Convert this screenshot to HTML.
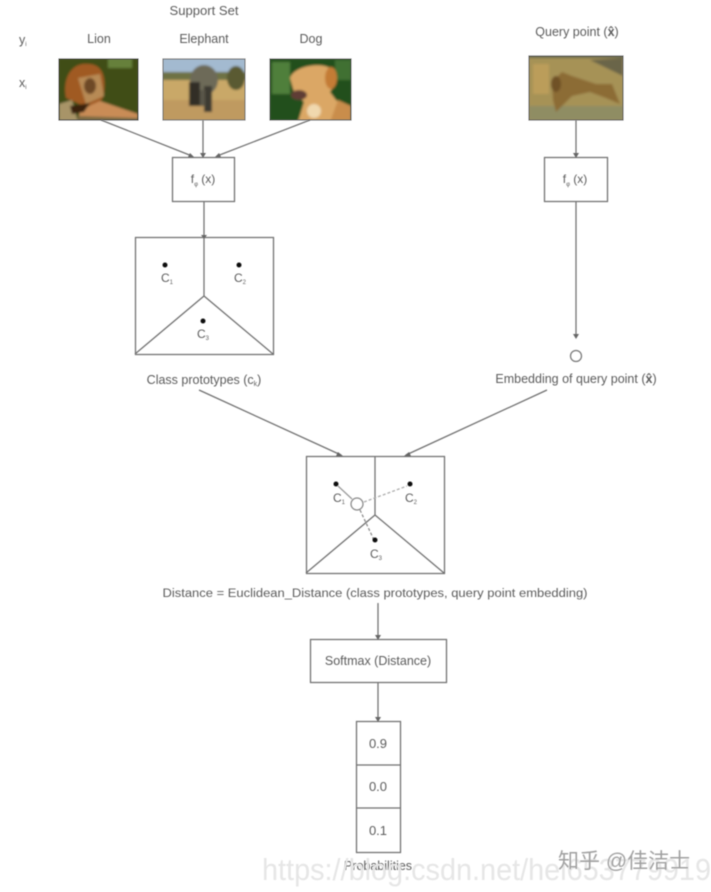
<!DOCTYPE html>
<html>
<head>
<meta charset="utf-8">
<style>
html,body{margin:0;padding:0;background:#fff;width:711px;height:892px;overflow:hidden}
svg{display:block;position:absolute;left:0;top:0}
text{font-family:"Liberation Sans","Noto Sans CJK SC",sans-serif;fill:#5c5c5c}
</style>
</head>
<body>
<svg width="711" height="892" viewBox="0 0 711 892" xmlns="http://www.w3.org/2000/svg">
<defs>
<filter id="b" x="-5%" y="-5%" width="110%" height="110%"><feGaussianBlur stdDeviation="0.6"/></filter>
<filter id="t" x="-10%" y="-30%" width="120%" height="160%"><feGaussianBlur stdDeviation="0.5"/></filter>
<filter id="i" x="-5%" y="-5%" width="110%" height="110%"><feGaussianBlur stdDeviation="1.3"/></filter>
<clipPath id="c1"><rect x="59" y="59" width="79" height="61"/></clipPath>
<clipPath id="c2"><rect x="163" y="59" width="82" height="61"/></clipPath>
<clipPath id="c3"><rect x="270" y="59" width="81" height="61"/></clipPath>
<clipPath id="c4"><rect x="529" y="56" width="94" height="64"/></clipPath>
</defs>

<!-- Lion -->
<g clip-path="url(#c1)"><g filter="url(#i)">
<rect x="55" y="55" width="90" height="70" fill="#3f4d18"/>
<rect x="108" y="58" width="24" height="10" fill="#66803a"/>
<path d="M66 98C62 78 72 62 88 64C102 64 106 76 104 92C104 100 98 106 84 106Z" fill="#a05a22"/>
<path d="M78 78L100 74L104 96L86 104Z" fill="#b78a55"/>
<ellipse cx="90" cy="86" rx="6" ry="8" fill="#6e4a28"/>
<path d="M80 110L100 101L138 114L138 122L78 122Z" fill="#c98c56"/>
<path d="M59 104L72 100L78 122L59 122Z" fill="#a89468"/>
<path d="M70 106L90 103L84 112L72 114Z" fill="#3a2410"/>
<path d="M78 116L138 118L138 122L78 122Z" fill="#7d6a42"/>
</g></g>
<rect x="59" y="59" width="79" height="61" fill="none" stroke="#555" stroke-width="1" filter="url(#t)"/>

<!-- Elephant -->
<g clip-path="url(#c2)"><g filter="url(#i)">
<rect x="160" y="55" width="90" height="21" fill="#a3bad0"/>
<rect x="160" y="72" width="90" height="9" fill="#6e7244"/>
<rect x="160" y="80" width="90" height="42" fill="#c9a868"/>
<rect x="160" y="100" width="90" height="22" fill="#bf9a60"/>
<ellipse cx="236" cy="78" rx="9" ry="12" fill="#5a5a30"/>
<ellipse cx="204" cy="80" rx="14" ry="15" fill="#6d6a58"/>
<rect x="189" y="82" width="11" height="24" fill="#302e28"/>
<rect x="204" y="86" width="8" height="26" fill="#3d3a33"/>
<rect x="200" y="90" width="5" height="16" fill="#5a5648"/>
</g></g>
<rect x="163" y="59" width="82" height="61" fill="none" stroke="#777" stroke-width="1" filter="url(#t)"/>

<!-- Dog -->
<g clip-path="url(#c3)"><g filter="url(#i)">
<rect x="266" y="55" width="90" height="70" fill="#24501e"/>
<rect x="272" y="62" width="18" height="32" fill="#4f7f3a"/>
<rect x="335" y="60" width="16" height="20" fill="#3f7030"/>
<path d="M290 78C294 66 320 62 330 68C340 72 336 84 330 92L336 100L351 110L351 122L298 122L304 102L294 92Z" fill="#dba765"/>
<ellipse cx="331" cy="78" rx="6" ry="11" fill="#c47c36"/>
<ellipse cx="299" cy="95" rx="8" ry="5" fill="#5f3c34"/>
<ellipse cx="314" cy="111" rx="7" ry="7" fill="#f0d8ae"/>
<path d="M338 100L351 106L351 122L330 122Z" fill="#c98d4c"/>
</g></g>
<rect x="270" y="59" width="81" height="61" fill="none" stroke="#666" stroke-width="1" filter="url(#t)"/>

<!-- Query -->
<g clip-path="url(#c4)"><g filter="url(#i)">
<rect x="525" y="52" width="102" height="72" fill="#a69256"/>
<rect x="525" y="52" width="102" height="6" fill="#6b6a4e"/>
<path d="M590 60L623 58L623 76Z" fill="#6a6548"/>
<rect x="529" y="106" width="94" height="14" fill="#8f8d64"/>
<path d="M552 82L562 72L572 76L596 84L612 84L620 104L606 98L590 92L572 96L556 112L553 100Z" fill="#8c6c34"/>
<ellipse cx="556" cy="84" rx="5" ry="8" fill="#6f5128"/>
<rect x="533" y="64" width="16" height="30" fill="#c4a25c" opacity=".7"/>
</g></g>
<rect x="529" y="56" width="94" height="64" fill="none" stroke="#666" stroke-width="1" filter="url(#t)"/>

<g filter="url(#b)" fill="none" stroke="#707070" stroke-width="1.25">
<!-- top arrows -->
<line x1="101" y1="120" x2="192" y2="156"/>
<line x1="203" y1="120" x2="203" y2="156"/>
<line x1="310" y1="120" x2="217" y2="156"/>
<rect x="172.500" y="157.500" width="62" height="44"/>
<line x1="204" y1="201" x2="204" y2="237"/>
<!-- voronoi 1 -->
<rect x="135.500" y="237.500" width="138" height="117"/>
<path d="M204 237V296M135 354L204 296L273 354"/>
<!-- right column -->
<line x1="576" y1="120" x2="576" y2="156"/>
<rect x="544.500" y="157.500" width="63" height="44"/>
<line x1="576" y1="201" x2="576" y2="337"/>
<circle cx="576" cy="356" r="5.500" stroke="#777"/>
<!-- to voronoi 2 -->
<line x1="199" y1="390" x2="341" y2="455"/>
<line x1="547" y1="390" x2="406" y2="455"/>
<rect x="306.500" y="456.500" width="138" height="117"/>
<path d="M375 456V515M306 573L375 515L444 573"/>
<circle cx="357" cy="504" r="6" stroke="#888"/>
<line x1="338" y1="486" x2="352" y2="499" stroke="#999"/>
<line x1="364" y1="502" x2="407" y2="486" stroke="#aaa" stroke-dasharray="3 2"/>
<line x1="360" y1="510" x2="374" y2="540" stroke="#888" stroke-dasharray="3 2"/>
<!-- bottom -->
<line x1="378" y1="603" x2="378" y2="638"/>
<rect x="310.500" y="639.500" width="136" height="43"/>
<line x1="378" y1="683" x2="378" y2="720"/>
<rect x="356.500" y="721.500" width="44" height="131"/>
<line x1="356" y1="765" x2="400" y2="765"/>
<line x1="356" y1="808" x2="400" y2="808"/>
<!-- arrowheads -->
<g fill="#666" stroke="none">
<path d="M194 157L188 157L190 153Z"/>
<path d="M203 158L200 153L206 153Z"/>
<path d="M215 157L221 157L219 153Z"/>
<path d="M204 239L201 235L207 235Z"/>
<path d="M576 158L573 153L579 153Z"/>
<path d="M576 339L573 334L579 334Z"/>
<path d="M343 456L336 456L338 452Z"/>
<path d="M404 456L411 456L409 452Z"/>
<path d="M378 640L375 635L381 635Z"/>
<path d="M378 722L375 717L381 717Z"/>
</g>
</g>

<!-- dots -->
<g fill="#111" filter="url(#t)">
<circle cx="165" cy="265" r="2.500"/>
<circle cx="239" cy="265" r="2.500"/>
<circle cx="203" cy="321" r="2.500"/>
<circle cx="336" cy="484" r="2.500"/>
<circle cx="410" cy="484" r="2.500"/>
<circle cx="375" cy="540" r="2.500"/>
</g>

<!-- labels -->
<g filter="url(#t)" font-size="11">
<text x="204" y="15" text-anchor="middle" font-size="12.500" textLength="69" lengthAdjust="spacingAndGlyphs">Support Set</text>
<text x="19" y="44" font-size="12.500">y<tspan font-size="6" dy="2">i</tspan></text>
<text x="19" y="87" font-size="12.500">x<tspan font-size="6" dy="2">i</tspan></text>
<text x="99" y="43" text-anchor="middle" font-size="12.500">Lion</text>
<text x="204" y="43" text-anchor="middle" font-size="12.500">Elephant</text>
<text x="311" y="43" text-anchor="middle" font-size="12.500">Dog</text>
<text x="577" y="36" text-anchor="middle" font-size="12.500">Query point  (<tspan font-weight="bold">x̂</tspan>)</text>
<text x="203" y="183" text-anchor="middle" font-size="12">f<tspan font-size="6" dy="3">φ</tspan><tspan dy="-3"> (x)</tspan></text>
<text x="575" y="183" text-anchor="middle" font-size="12">f<tspan font-size="6" dy="3">φ</tspan><tspan dy="-3"> (x)</tspan></text>
<text x="161" y="282" font-size="12">C<tspan font-size="6" dy="2">1</tspan></text>
<text x="234" y="282" font-size="12">C<tspan font-size="6" dy="2">2</tspan></text>
<text x="197" y="338" font-size="12">C<tspan font-size="6" dy="2">3</tspan></text>
<text x="333" y="502" font-size="12">C<tspan font-size="6" dy="2">1</tspan></text>
<text x="405" y="502" font-size="12">C<tspan font-size="6" dy="2">2</tspan></text>
<text x="370" y="558" font-size="12">C<tspan font-size="6" dy="2">3</tspan></text>
<text x="204" y="384" text-anchor="middle" font-size="12.500">Class prototypes (c<tspan font-size="7" dy="2">k</tspan><tspan dy="-2">)</tspan></text>
<text x="576" y="383" text-anchor="middle" font-size="12.500">Embedding of query point (<tspan font-weight="bold">x̂</tspan>)</text>
<text x="375" y="597" text-anchor="middle" font-size="11.500" textLength="425" lengthAdjust="spacingAndGlyphs">Distance = Euclidean_Distance (class prototypes, query point embedding)</text>
<text x="378" y="665" text-anchor="middle" font-size="12.500">Softmax (Distance)</text>
<text x="378" y="748" text-anchor="middle" font-size="13">0.9</text>
<text x="378" y="791" text-anchor="middle" font-size="13">0.0</text>
<text x="378" y="835" text-anchor="middle" font-size="13">0.1</text>
<text x="378" y="870" text-anchor="middle" font-size="12.500">Probabilities</text>
</g>

<!-- watermarks -->
<g filter="url(#t)">
<text x="262" y="880" font-size="31" style="fill:#e6e6e6" textLength="449" lengthAdjust="spacingAndGlyphs">https://blog.csdn.net/hei653779919</text>
<text x="558" y="868" font-size="21" style="fill:#a0a0a0">知乎 @佳洁士</text>
</g>
</svg>
</body>
</html>
